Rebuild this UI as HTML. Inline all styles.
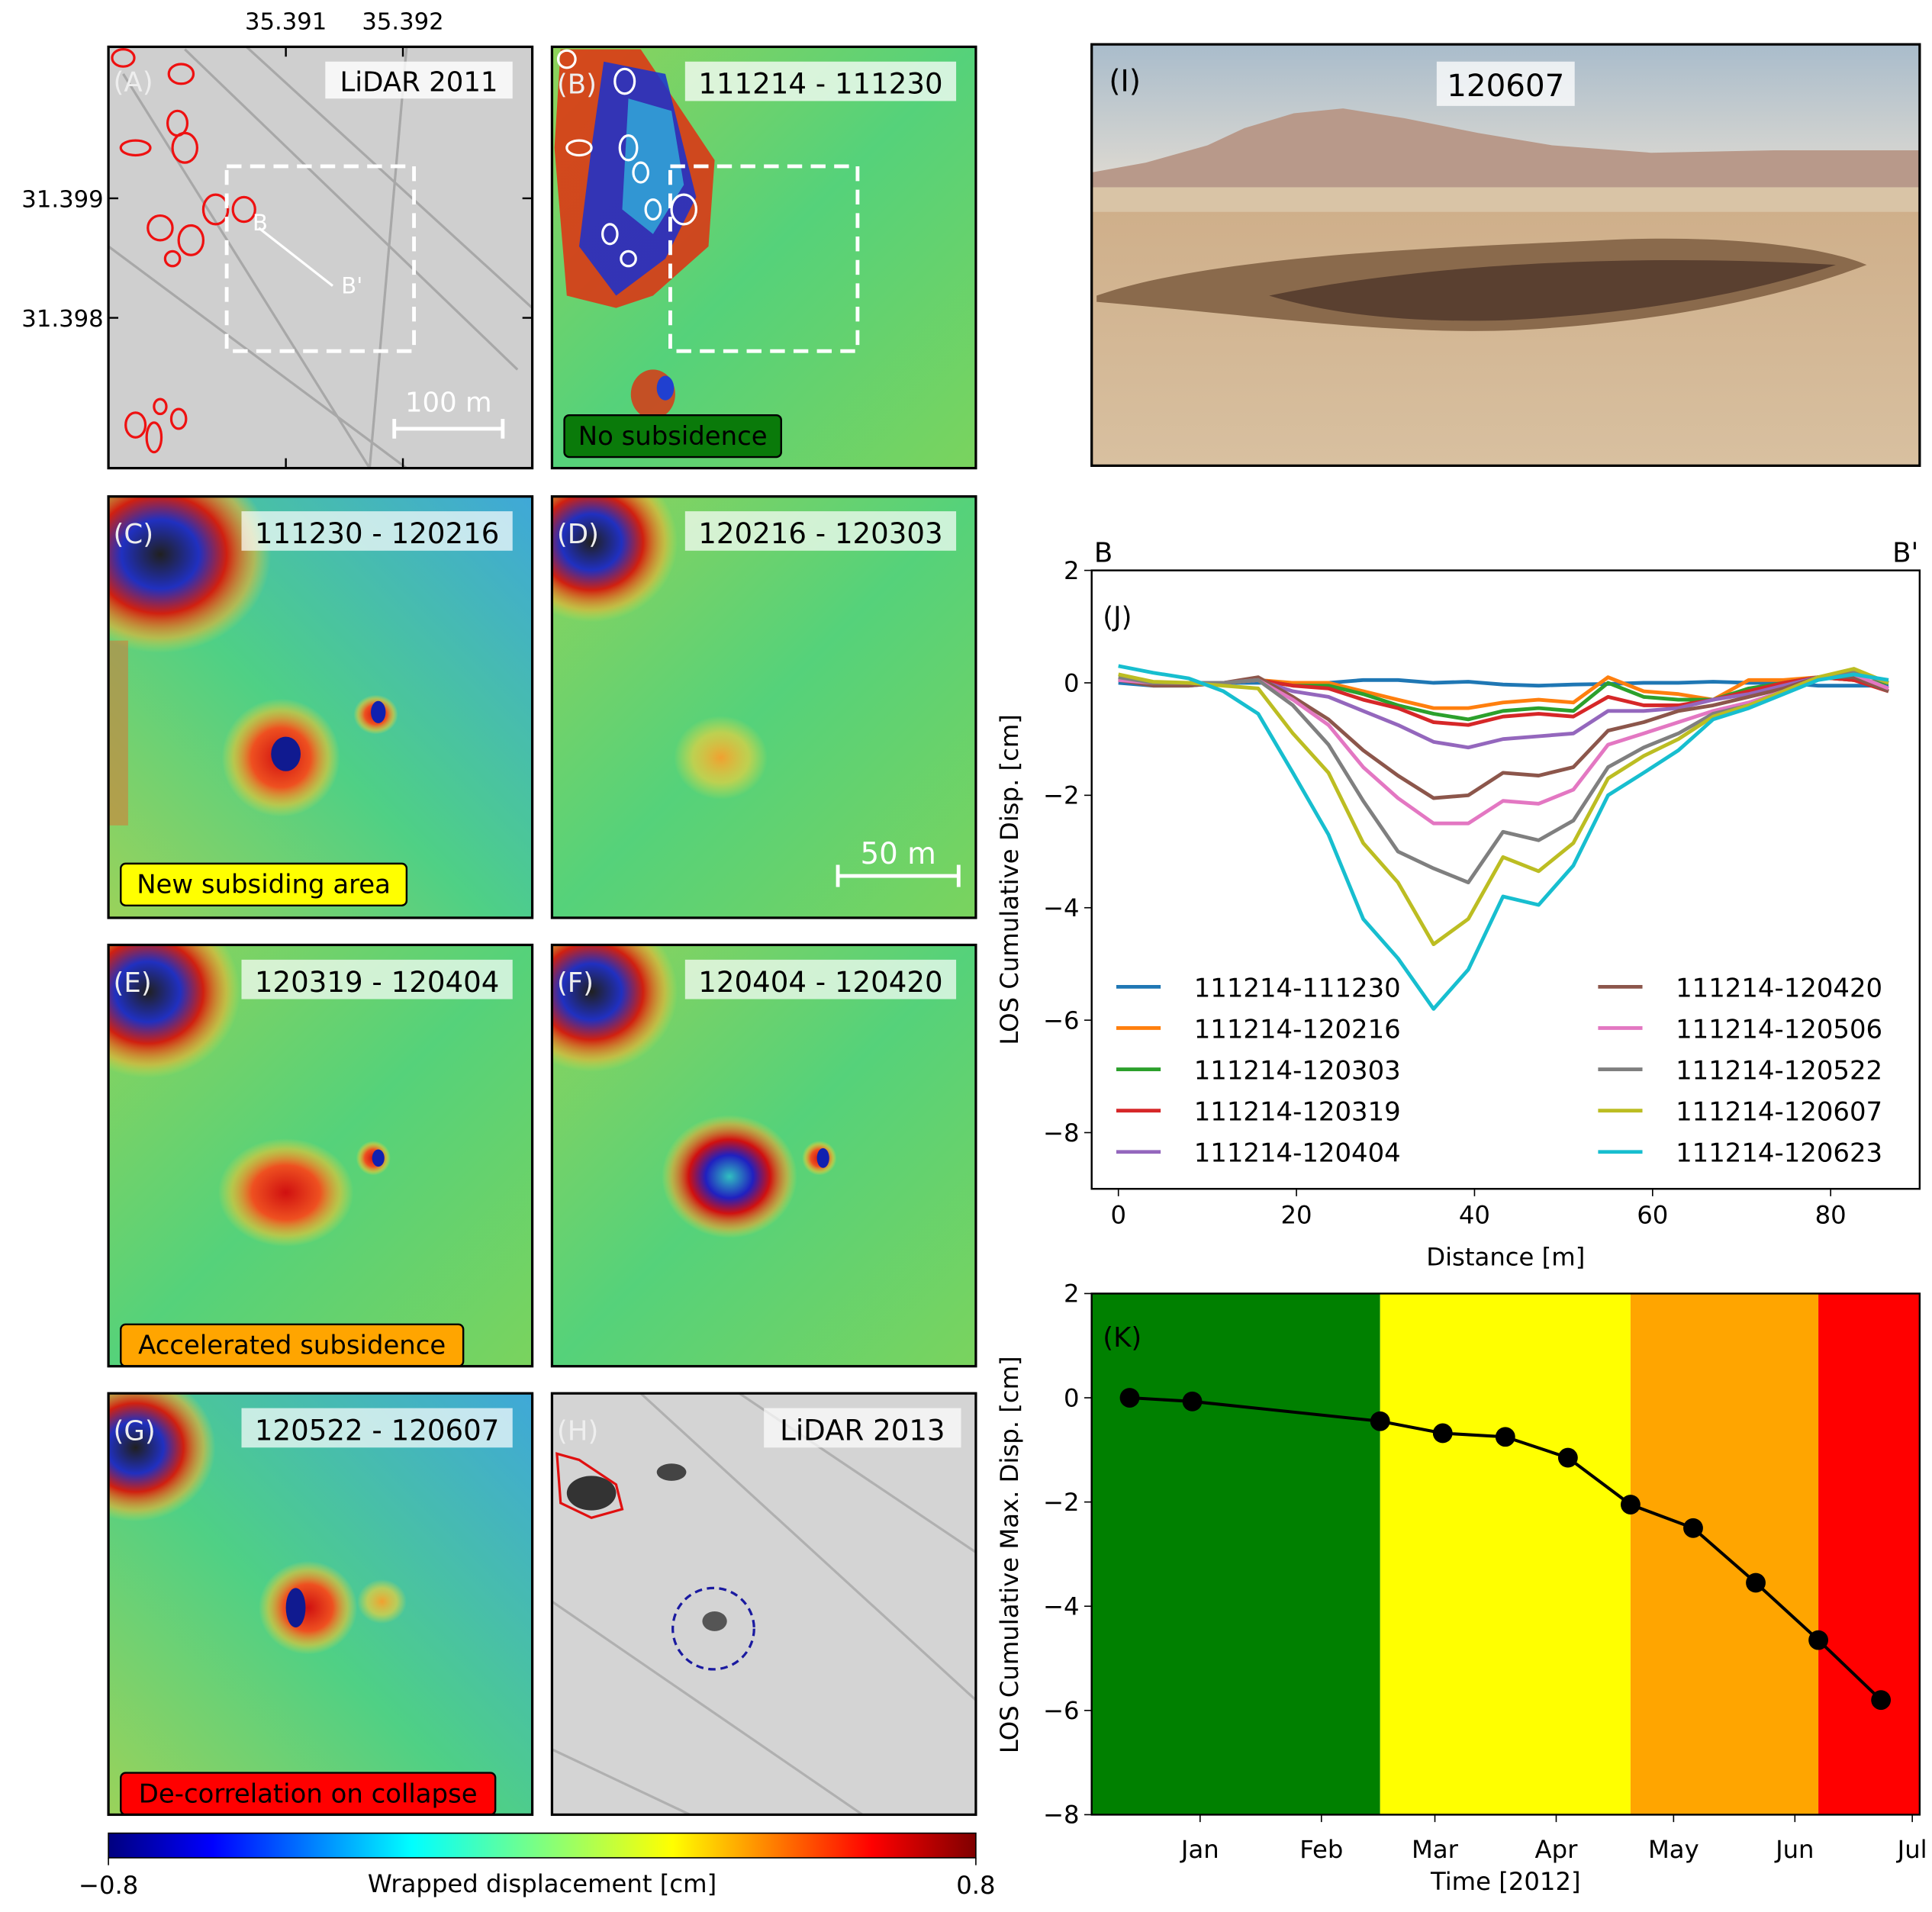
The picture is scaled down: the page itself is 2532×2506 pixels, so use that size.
<!DOCTYPE html>
<html><head><meta charset="utf-8"><style>
html,body{margin:0;padding:0;background:#fff}
svg{display:block}
text{font-family:"DejaVu Sans","Liberation Sans",sans-serif}
</style></head><body>
<svg id="fig" width="2532" height="2506" viewBox="0 0 1568 1552" preserveAspectRatio="none" xmlns="http://www.w3.org/2000/svg">
<defs>
<clipPath id="cA"><rect x="88" y="38" width="344" height="342"/></clipPath>
<clipPath id="cB"><rect x="448" y="38" width="344" height="342"/></clipPath>
<clipPath id="cC"><rect x="88" y="403" width="344" height="342"/></clipPath>
<clipPath id="cD"><rect x="448" y="403" width="344" height="342"/></clipPath>
<clipPath id="cE"><rect x="88" y="767" width="344" height="342"/></clipPath>
<clipPath id="cF"><rect x="448" y="767" width="344" height="342"/></clipPath>
<clipPath id="cG"><rect x="88" y="1131" width="344" height="342"/></clipPath>
<clipPath id="cH"><rect x="448" y="1131" width="344" height="342"/></clipPath>
<clipPath id="cI"><rect x="886" y="36" width="672" height="342"/></clipPath>
<linearGradient id="jet" x1="0" x2="1" y1="0" y2="0">
<stop offset="0" stop-color="#00007f"/><stop offset="0.12" stop-color="#0000ff"/><stop offset="0.35" stop-color="#00ffff"/><stop offset="0.5" stop-color="#7fff7f"/><stop offset="0.65" stop-color="#ffff00"/><stop offset="0.88" stop-color="#ff0000"/><stop offset="1" stop-color="#7f0000"/></linearGradient>
<linearGradient id="green" x1="0" y1="0" x2="1" y2="1">
<stop offset="0" stop-color="#8fd35a"/><stop offset="0.5" stop-color="#55d27a"/><stop offset="1" stop-color="#7ad35e"/></linearGradient>
<linearGradient id="greenblue" x1="0" y1="1" x2="1" y2="0">
<stop offset="0" stop-color="#9ad25a"/><stop offset="0.45" stop-color="#4fd085"/><stop offset="1" stop-color="#3fa8d8"/></linearGradient>
<radialGradient id="spotR"><stop offset="0" stop-color="#d01010"/><stop offset="0.5" stop-color="#ee5020"/><stop offset="0.8" stop-color="#f0c030" stop-opacity="0.6"/><stop offset="1" stop-color="#f0e040" stop-opacity="0"/></radialGradient>
<radialGradient id="spotY"><stop offset="0" stop-color="#f0a030"/><stop offset="0.6" stop-color="#e8d040" stop-opacity="0.7"/><stop offset="1" stop-color="#e8e040" stop-opacity="0"/></radialGradient>
<radialGradient id="spotF"><stop offset="0" stop-color="#30c0c0"/><stop offset="0.35" stop-color="#2020c0"/><stop offset="0.6" stop-color="#d01010"/><stop offset="0.85" stop-color="#f0a030" stop-opacity="0.6"/><stop offset="1" stop-color="#f0e040" stop-opacity="0"/></radialGradient>
<radialGradient id="corner"><stop offset="0" stop-color="#202020"/><stop offset="0.35" stop-color="#2030c0"/><stop offset="0.6" stop-color="#d02010"/><stop offset="0.85" stop-color="#f0b030" stop-opacity="0.6"/><stop offset="1" stop-color="#e0e040" stop-opacity="0"/></radialGradient>
<linearGradient id="sky" x1="0" y1="0" x2="0" y2="1"><stop offset="0" stop-color="#a9bccb"/><stop offset="1" stop-color="#e2dcd2"/></linearGradient>
<linearGradient id="ground" x1="0" y1="0" x2="0" y2="1"><stop offset="0" stop-color="#c9a47c"/><stop offset="1" stop-color="#d8c0a0"/></linearGradient>
</defs>

<text x="232" y="24" font-size="19" text-anchor="middle">35.391</text>
<text x="327" y="24" font-size="19" text-anchor="middle">35.392</text>
<text x="84" y="168" font-size="19" text-anchor="end">31.399</text>
<text x="84" y="265" font-size="19" text-anchor="end">31.398</text>

<g>
<g clip-path="url(#cA)">
<rect x="88" y="38" width="344" height="342" fill="#cfcfcf"/>
<path d="M100 60 L300 380 M150 40 L420 300 M88 200 L330 380 M200 38 L432 250 M330 38 L300 380" stroke="#a8a8a8" stroke-width="2" fill="none"/>
<g fill="none" stroke="#ee1111" stroke-width="2">
<ellipse cx="100" cy="47" rx="9" ry="7"/><ellipse cx="147" cy="60" rx="10" ry="8"/><ellipse cx="144" cy="100" rx="8" ry="10"/><ellipse cx="150" cy="120" rx="10" ry="12"/><ellipse cx="110" cy="120" rx="12" ry="6"/><ellipse cx="175" cy="170" rx="10" ry="12"/><ellipse cx="198" cy="170" rx="9" ry="10"/><ellipse cx="130" cy="185" rx="10" ry="10"/><ellipse cx="155" cy="195" rx="10" ry="12"/><ellipse cx="140" cy="210" rx="6" ry="6"/><ellipse cx="110" cy="345" rx="8" ry="10"/><ellipse cx="125" cy="355" rx="6" ry="12"/><ellipse cx="145" cy="340" rx="6" ry="8"/><ellipse cx="130" cy="330" rx="5" ry="6"/></g>
</g>
<rect x="184" y="135" width="152" height="150" fill="none" stroke="#fff" stroke-width="3" stroke-dasharray="12,7"/>
<line x1="210" y1="185" x2="270" y2="232" stroke="#fff" stroke-width="2"/>
<text x="205" y="187" font-size="18" fill="#fff">B</text><text x="277" y="238" font-size="18" fill="#fff">B'</text>
<line x1="320" y1="348" x2="408" y2="348" stroke="#fff" stroke-width="3"/><line x1="320" y1="340" x2="320" y2="356" stroke="#fff" stroke-width="3"/><line x1="408" y1="340" x2="408" y2="356" stroke="#fff" stroke-width="3"/>
<text x="364" y="334" font-size="22" fill="#fff" text-anchor="middle">100 m</text>
<rect x="264" y="50" width="152" height="30" fill="#fff" opacity="0.8"/>
<text x="340" y="74" font-size="22" text-anchor="middle">LiDAR 2011</text>
<text x="92" y="74" font-size="22" fill="#eee">(A)</text>
<rect x="88" y="38" width="344" height="342" fill="none" stroke="#000" stroke-width="2"/>
<path d="M232 38v8M327 38v8M232 380v-8M327 380v-8M88 161h8M88 258h8M432 161h-8M432 258h-8" stroke="#000" stroke-width="1.5"/>
</g>

<g>
<g clip-path="url(#cB)">
<rect x="448" y="38" width="344" height="342" fill="url(#green)"/>
<path d="M455 40 L520 40 L580 130 L575 200 L530 240 L500 250 L460 240 L450 120 Z" fill="#e03010" opacity="0.85"/>
<path d="M490 50 L540 60 L565 160 L540 210 L500 240 L470 200 L480 120 Z" fill="#1830d0" opacity="0.85"/>
<path d="M510 80 L545 90 L555 150 L530 190 L505 170 Z" fill="#30c0e0" opacity="0.7"/>
<ellipse cx="530" cy="320" rx="18" ry="20" fill="#e03010" opacity="0.8"/>
<ellipse cx="540" cy="315" rx="7" ry="10" fill="#2040d0"/>
<g fill="none" stroke="#fff" stroke-width="2"><ellipse cx="460" cy="48" rx="7" ry="7"/><ellipse cx="507" cy="66" rx="8" ry="10"/><ellipse cx="510" cy="120" rx="7" ry="10"/><ellipse cx="520" cy="140" rx="6" ry="8"/><ellipse cx="470" cy="120" rx="10" ry="6"/><ellipse cx="555" cy="170" rx="10" ry="12"/><ellipse cx="530" cy="170" rx="6" ry="8"/><ellipse cx="495" cy="190" rx="6" ry="8"/><ellipse cx="510" cy="210" rx="6" ry="6"/></g>
</g>
<rect x="544" y="135" width="152" height="150" fill="none" stroke="#fff" stroke-width="3" stroke-dasharray="12,7"/>
<rect x="556" y="50" width="220" height="32" fill="#fff" opacity="0.75"/>
<text x="666" y="76" font-size="23" text-anchor="middle">111214 - 111230</text>
<text x="452" y="76" font-size="22" fill="#eee">(B)</text>
<rect x="458" y="337" width="176" height="34" rx="4" fill="#0a7a0a" stroke="#000" stroke-width="1.5"/>
<text x="546" y="361" font-size="21" text-anchor="middle">No subsidence</text>
<rect x="448" y="38" width="344" height="342" fill="none" stroke="#000" stroke-width="2"/>
</g>

<g>
<g clip-path="url(#cC)">
<rect x="88" y="403" width="344" height="342" fill="url(#greenblue)"/>
<ellipse cx="130" cy="450" rx="90" ry="80" fill="url(#corner)"/>
<rect x="88" y="520" width="16" height="150" fill="#e07030" opacity="0.5"/>
<ellipse cx="228" cy="615" rx="48" ry="48" fill="url(#spotR)"/>
<ellipse cx="232" cy="612" rx="12" ry="14" fill="#101a90"/>
<ellipse cx="305" cy="580" rx="18" ry="16" fill="url(#spotR)"/><ellipse cx="307" cy="578" rx="6" ry="9" fill="#1020b0"/>
</g>
<rect x="196" y="415" width="220" height="32" fill="#fff" opacity="0.7"/>
<text x="306" y="441" font-size="23" text-anchor="middle">111230 - 120216</text>
<text x="92" y="441" font-size="22" fill="#eee">(C)</text>
<rect x="98" y="701" width="232" height="34" rx="4" fill="#ffff00" stroke="#000" stroke-width="1.5"/>
<text x="214" y="725" font-size="21" text-anchor="middle">New subsiding area</text>
<rect x="88" y="403" width="344" height="342" fill="none" stroke="#000" stroke-width="2"/>
</g>

<g>
<g clip-path="url(#cD)">
<rect x="448" y="403" width="344" height="342" fill="url(#green)"/>
<ellipse cx="480" cy="440" rx="70" ry="65" fill="url(#corner)"/>
<ellipse cx="585" cy="615" rx="38" ry="34" fill="url(#spotY)"/>
</g>
<rect x="556" y="415" width="220" height="32" fill="#fff" opacity="0.7"/>
<text x="666" y="441" font-size="23" text-anchor="middle">120216 - 120303</text>
<text x="452" y="441" font-size="22" fill="#eee">(D)</text>
<line x1="680" y1="711" x2="778" y2="711" stroke="#fff" stroke-width="3"/><line x1="680" y1="702" x2="680" y2="720" stroke="#fff" stroke-width="3"/><line x1="778" y1="702" x2="778" y2="720" stroke="#fff" stroke-width="3"/>
<text x="729" y="701" font-size="24" fill="#fff" text-anchor="middle">50 m</text>
<rect x="448" y="403" width="344" height="342" fill="none" stroke="#000" stroke-width="2"/>
</g>

<g>
<g clip-path="url(#cE)">
<rect x="88" y="767" width="344" height="342" fill="url(#green)"/>
<ellipse cx="120" cy="805" rx="75" ry="70" fill="url(#corner)"/>
<ellipse cx="232" cy="968" rx="55" ry="44" fill="url(#spotR)"/>
<ellipse cx="303" cy="940" rx="14" ry="14" fill="url(#spotR)"/><ellipse cx="307" cy="940" rx="5" ry="7" fill="#1020b0"/>
</g>
<rect x="196" y="779" width="220" height="32" fill="#fff" opacity="0.7"/>
<text x="306" y="805" font-size="23" text-anchor="middle">120319 - 120404</text>
<text x="92" y="805" font-size="22" fill="#eee">(E)</text>
<rect x="98" y="1075" width="278" height="34" rx="4" fill="#ffa500" stroke="#000" stroke-width="1.5"/>
<text x="237" y="1099" font-size="21" text-anchor="middle">Accelerated subsidence</text>
<rect x="88" y="767" width="344" height="342" fill="none" stroke="#000" stroke-width="2"/>
</g>

<g>
<g clip-path="url(#cF)">
<rect x="448" y="767" width="344" height="342" fill="url(#green)"/>
<ellipse cx="480" cy="805" rx="70" ry="65" fill="url(#corner)"/>
<ellipse cx="592" cy="955" rx="55" ry="50" fill="url(#spotF)"/>
<ellipse cx="665" cy="940" rx="14" ry="14" fill="url(#spotR)"/><ellipse cx="668" cy="940" rx="5" ry="8" fill="#1020b0"/>
</g>
<rect x="556" y="779" width="220" height="32" fill="#fff" opacity="0.7"/>
<text x="666" y="805" font-size="23" text-anchor="middle">120404 - 120420</text>
<text x="452" y="805" font-size="22" fill="#eee">(F)</text>
<rect x="448" y="767" width="344" height="342" fill="none" stroke="#000" stroke-width="2"/>
</g>

<g>
<g clip-path="url(#cG)">
<rect x="88" y="1131" width="344" height="342" fill="url(#greenblue)"/>
<ellipse cx="110" cy="1175" rx="65" ry="60" fill="url(#corner)"/>
<ellipse cx="250" cy="1305" rx="40" ry="38" fill="url(#spotR)"/>
<ellipse cx="240" cy="1305" rx="8" ry="16" fill="#101a90"/>
<ellipse cx="310" cy="1300" rx="20" ry="18" fill="url(#spotY)"/>
</g>
<rect x="196" y="1143" width="220" height="32" fill="#fff" opacity="0.7"/>
<text x="306" y="1169" font-size="23" text-anchor="middle">120522 - 120607</text>
<text x="92" y="1169" font-size="22" fill="#eee">(G)</text>
<rect x="98" y="1439" width="304" height="34" rx="4" fill="#ff0000" stroke="#000" stroke-width="1.5"/>
<text x="250" y="1463" font-size="21" text-anchor="middle">De-correlation on collapse</text>
<rect x="88" y="1131" width="344" height="342" fill="none" stroke="#000" stroke-width="2"/>
</g>

<g>
<g clip-path="url(#cH)">
<rect x="448" y="1131" width="344" height="342" fill="#d4d4d4"/>
<path d="M448 1300 L700 1473 M520 1131 L792 1380 M448 1420 L560 1473 M600 1131 L792 1260" stroke="#b0b0b0" stroke-width="2" fill="none"/>
<ellipse cx="480" cy="1212" rx="20" ry="14" fill="#333"/><ellipse cx="545" cy="1195" rx="12" ry="7" fill="#444"/>
<path d="M452 1180 L470 1185 L500 1205 L505 1225 L480 1232 L455 1220 Z" fill="none" stroke="#e01010" stroke-width="2"/>
<ellipse cx="579" cy="1322" rx="33" ry="33" fill="none" stroke="#1a1aa0" stroke-width="2" stroke-dasharray="6,4"/>
<ellipse cx="580" cy="1316" rx="10" ry="8" fill="#555"/>
</g>
<rect x="620" y="1143" width="160" height="32" fill="#fff" opacity="0.7"/>
<text x="700" y="1169" font-size="23" text-anchor="middle">LiDAR 2013</text>
<text x="452" y="1169" font-size="22" fill="#eee">(H)</text>
<rect x="448" y="1131" width="344" height="342" fill="none" stroke="#000" stroke-width="2"/>
</g>

<g>
<rect x="88" y="1488" width="704" height="20" fill="url(#jet)" stroke="#000" stroke-width="1"/>
<line x1="88" y1="1508" x2="88" y2="1514" stroke="#000"/><line x1="792" y1="1508" x2="792" y2="1514" stroke="#000"/>
<text x="88" y="1537" font-size="20" text-anchor="middle">−0.8</text>
<text x="792" y="1537" font-size="20" text-anchor="middle">0.8</text>
<text x="440" y="1536" font-size="20" text-anchor="middle">Wrapped displacement [cm]</text>
</g>

<g>
<g clip-path="url(#cI)">
<rect x="886" y="36" width="672" height="342" fill="url(#ground)"/>
<rect x="886" y="36" width="672" height="120" fill="url(#sky)"/>
<path d="M886 140 L930 132 L980 118 L1010 104 L1050 92 L1090 88 L1140 96 L1200 108 L1260 118 L1340 124 L1440 122 L1558 122 L1558 165 L886 165 Z" fill="#b8998a"/>
<rect x="886" y="152" width="672" height="20" fill="#d9c4a6"/>
<path d="M890 240 C990 205 1200 200 1300 195 C1400 190 1480 200 1515 215 C1450 240 1350 262 1230 268 C1130 272 1040 258 890 245 Z" fill="#8a6a4c"/>
<path d="M1030 240 C1150 215 1320 205 1490 215 C1420 238 1330 255 1220 260 C1140 262 1080 255 1030 240 Z" fill="#5a4030"/>
</g>
<rect x="1166" y="50" width="112" height="36" fill="#fff" opacity="0.75"/>
<text x="1222" y="78" font-size="25" text-anchor="middle">120607</text>
<text x="900" y="74" font-size="24">(I)</text>
<rect x="886" y="36" width="672" height="342" fill="none" stroke="#000" stroke-width="2"/>
</g>

<g id="chartJ"></g>
<g id="chartK"></g>
</svg>
<script>
const distances = [0,3.9,7.9,11.8,15.7,19.6,23.6,27.5,31.4,35.4,39.3,43.2,47.2,51.1,55,59,62.9,66.8,70.8,74.7,78.6,82.6,86.5];
const seriesNames = ["111214-111230","111214-120216","111214-120303","111214-120319","111214-120404","111214-120420","111214-120506","111214-120522","111214-120607","111214-120623"];
const s111230 = [0,-0.05,-0.05,0,0,0,0,0.05,0.05,0,0.02,-0.03,-0.05,-0.03,-0.02,0,0,0.02,0,0,-0.05,-0.05,-0.05];
const s120216 = [0.05,0,0,0,0.05,0,0,-0.15,-0.3,-0.45,-0.45,-0.35,-0.3,-0.35,0.1,-0.15,-0.2,-0.3,0.05,0.05,0.1,0.05,0];
const s120303 = [0.05,0,0,0,0.05,-0.05,-0.05,-0.2,-0.4,-0.55,-0.65,-0.5,-0.45,-0.5,0,-0.25,-0.3,-0.3,-0.1,0,0.1,0.05,0];
const s120319 = [0.05,0,0,0,0.05,-0.05,-0.1,-0.3,-0.45,-0.7,-0.75,-0.6,-0.55,-0.6,-0.25,-0.4,-0.4,-0.3,-0.15,0,0.1,0.05,-0.15];
const s120404 = [0.05,0,0,0,0.05,-0.15,-0.25,-0.5,-0.75,-1.05,-1.15,-1.0,-0.95,-0.9,-0.5,-0.5,-0.45,-0.3,-0.2,-0.05,0.1,0.1,-0.1];
const s120420 = [0.05,-0.05,-0.05,0,0.1,-0.25,-0.65,-1.2,-1.65,-2.05,-2.0,-1.6,-1.65,-1.5,-0.85,-0.7,-0.5,-0.4,-0.25,-0.1,0.1,0.1,-0.15];
const s120506 = [0.05,0,0,0,0.05,-0.3,-0.75,-1.5,-2.05,-2.5,-2.5,-2.1,-2.15,-1.9,-1.1,-0.9,-0.7,-0.5,-0.35,-0.15,0.1,0.15,-0.1];
const s120522 = [0.1,0,0,0,0.05,-0.4,-1.1,-2.1,-3.0,-3.3,-3.55,-2.65,-2.8,-2.45,-1.5,-1.15,-0.9,-0.55,-0.4,-0.15,0.1,0.2,0];
const s120607 = [0.15,0.02,0,-0.05,-0.1,-0.9,-1.6,-2.85,-3.55,-4.65,-4.2,-3.1,-3.35,-2.85,-1.7,-1.3,-1.0,-0.6,-0.4,-0.15,0.1,0.25,0];
const s120623 = [0.3,0.18,0.08,-0.15,-0.55,-1.6,-2.7,-4.2,-4.9,-5.8,-5.1,-3.8,-3.95,-3.25,-2.0,-1.6,-1.2,-0.65,-0.45,-0.2,0.05,0.15,0.05];
const seriesColors = ["#1f77b4","#ff7f0e","#2ca02c","#d62728","#9467bd","#8c564b","#e377c2","#7f7f7f","#bcbd22","#17becf"];
const jXTicks = [0,20,40,60,80];
const jYTicks = [2,0,-2,-4,-6,-8];

const kDates = ["2011-12-14","2011-12-30","2012-02-16","2012-03-03","2012-03-19","2012-04-04","2012-04-20","2012-05-06","2012-05-22","2012-06-07","2012-06-23"];
const kValues = [0,-0.07,-0.45,-0.68,-0.75,-1.15,-2.05,-2.5,-3.55,-4.65,-5.8];
const kMonthTicks = ["2012-01-01","2012-02-01","2012-03-01","2012-04-01","2012-05-01","2012-06-01","2012-07-01"];
const kMonthLabels = ["Jan","Feb","Mar","Apr","May","Jun","Jul"];
const kPhaseStarts = ["2011-12-06","2012-02-16","2012-04-20","2012-06-07"];
const kPhaseColors = ["#008000","#ffff00","#ffa500","#ff0000"];
const kYTicks = [2,0,-2,-4,-6,-8];

const NS="http://www.w3.org/2000/svg";
function mk(tag, attrs, parent){const e=document.createElementNS(NS,tag);for(const k in attrs)e.setAttribute(k,attrs[k]);parent.appendChild(e);return e;}

const J = document.getElementById('chartJ');
const jL=886,jR=1558,jT=463,jB=965;
const jx = d => jL + (d - (-3.0)) / (90.0 - (-3.0)) * (jR-jL);
const jy = v => jT + (2 - v) / (2 - (-9)) * (jB-jT);
const allSeries=[s111230,s120216,s120303,s120319,s120404,s120420,s120506,s120522,s120607,s120623];
allSeries.forEach((s,i)=>{
  const p = mk('polyline',{points:s.map((v,k)=>jx(distances[k])+','+jy(v)).join(' '),fill:'none',stroke:seriesColors[i],'stroke-width':3,'stroke-linejoin':'round'},J);
  
  
});
mk('rect',{x:jL,y:jT,width:jR-jL,height:jB-jT,fill:'none',stroke:'#000','stroke-width':1.5},J);
jXTicks.forEach(t=>{
  mk('line',{x1:jx(t),x2:jx(t),y1:jB,y2:jB+6,stroke:'#000'},J);
  const tx=mk('text',{x:jx(t),y:jB+28,'font-size':20,'text-anchor':'middle'},J);tx.textContent=t;
  
  
});
jYTicks.forEach(t=>{
  mk('line',{x1:jL-6,x2:jL,y1:jy(t),y2:jy(t),stroke:'#000'},J);
  const tx=mk('text',{x:jL-10,y:jy(t)+7,'font-size':20,'text-anchor':'end'},J);tx.textContent=String(t).replace('-','−');
  
  
});
let t=mk('text',{x:1222,y:1027,'font-size':20,'text-anchor':'middle'},J);t.textContent='Distance [m]';


t=mk('text',{x:0,y:0,'font-size':20,'text-anchor':'middle',transform:'translate(826,714) rotate(-90)'},J);t.textContent='LOS Cumulative Disp. [cm]';


t=mk('text',{x:888,y:456,'font-size':22},J);t.textContent='B';


t=mk('text',{x:1557,y:456,'font-size':22,'text-anchor':'end'},J);t.textContent="B'";


t=mk('text',{x:895,y:508,'font-size':22},J);t.textContent='(J)';


seriesNames.forEach((n,i)=>{
  const col=i<5?0:1,row=i%5;
  const x0=col?1297:906, y0=801+row*33.5;
  const g=mk('g',{},J);
  
  
  mk('line',{x1:x0,x2:x0+36,y1:y0,y2:y0,stroke:seriesColors[i],'stroke-width':3},g);
  const tx=mk('text',{x:x0+63,y:y0+8,'font-size':21},g);tx.textContent=n;
});

const K=document.getElementById('chartK');
const kL=886,kR=1558,kT=1050,kB=1473;
const day = s => (Date.parse(s+'T00:00:00Z') - Date.parse('2012-01-01T00:00:00Z'))/86400000;
const kx = s => 974 + day(s) * (1552-974)/182;
const ky = v => kT + (2 - v)/10 * (kB-kT);
kPhaseStarts.forEach((s,i)=>{
  const x1 = i===0 ? kL : kx(s);
  const x2 = i<kPhaseStarts.length-1 ? kx(kPhaseStarts[i+1]) : kR;
  const r=mk('rect',{x:x1,y:kT,width:x2-x1,height:kB-kT,fill:kPhaseColors[i]},K);
  
  
});
const ln=mk('polyline',{points:kDates.map((d,i)=>kx(d)+','+ky(kValues[i])).join(' '),fill:'none',stroke:'#000','stroke-width':2.5},K);


kDates.forEach((d,i)=>{
  const c=mk('circle',{cx:kx(d),cy:ky(kValues[i]),r:8,fill:'#000'},K);
  
  
});
mk('rect',{x:kL,y:kT,width:kR-kL,height:kB-kT,fill:'none',stroke:'#000','stroke-width':1.5},K);
kMonthTicks.forEach((d,i)=>{
  mk('line',{x1:kx(d),x2:kx(d),y1:kB,y2:kB+6,stroke:'#000'},K);
  const tx=mk('text',{x:kx(d),y:kB+35,'font-size':20,'text-anchor':'middle'},K);tx.textContent=kMonthLabels[i];
  
  
});
kYTicks.forEach(v=>{
  mk('line',{x1:kL-6,x2:kL,y1:ky(v),y2:ky(v),stroke:'#000'},K);
  const tx=mk('text',{x:kL-10,y:ky(v)+7,'font-size':20,'text-anchor':'end'},K);tx.textContent=String(v).replace('-','−');
  
  
});
t=mk('text',{x:1222,y:1534,'font-size':20,'text-anchor':'middle'},K);t.textContent='Time [2012]';


t=mk('text',{x:0,y:0,'font-size':20,'text-anchor':'middle',transform:'translate(826,1262) rotate(-90)'},K);t.textContent='LOS Cumulative Max. Disp. [cm]';


t=mk('text',{x:895,y:1093,'font-size':22},K);t.textContent='(K)';


</script>
</body></html>
